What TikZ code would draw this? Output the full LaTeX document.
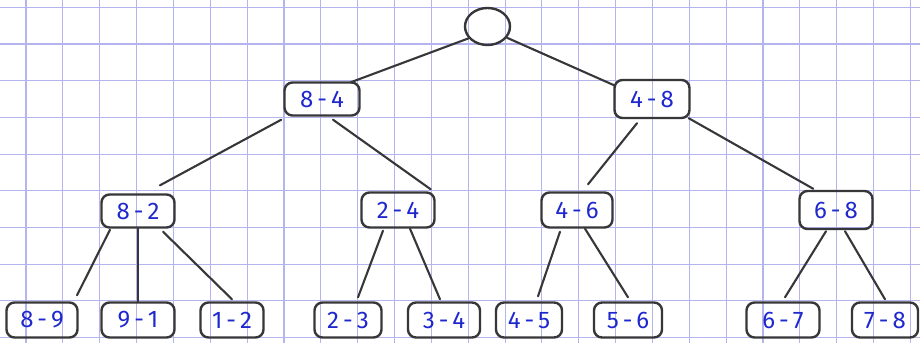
\documentclass[tikz,border=0pt]{standalone}
\usepackage{fontspec}
\setmainfont{Fira Sans}
\usetikzlibrary{shapes.geometric}
\definecolor{gridc}{RGB}{180,180,238}
\definecolor{pen}{RGB}{55,55,58}
\definecolor{ink}{RGB}{30,40,205}
\tikzset{
  gridline/.style={draw=gridc, line width=1.1pt},
  box/.style={draw=pen, line width=2.4pt, rounded corners=8pt, minimum height=34pt,
    inner sep=0pt, text=ink, font=\fontsize{24}{26}\selectfont},
  leaf/.style={box, minimum height=35pt},
  link/.style={draw=pen, line width=2.1pt, line cap=round},
}
\begin{document}
\begin{tikzpicture}[x=1pt,y=-1pt]
\useasboundingbox (0,0) rectangle (920,343);
\fill[white] (0,0) rectangle (920,343);
\foreach \k in {0,...,24} \draw[gridline] ({26+36.85*\k},0) -- ({26+36.85*\k},343);
\foreach \k in {0,...,9} \draw[gridline] (0,{7.3+36.7*\k}) -- (920,{7.3+36.7*\k});

% root
\node[ellipse, draw=pen, line width=2.4pt, minimum width=45pt, minimum height=37pt, inner sep=0pt] (root) at (487.5,26.5) {};
% level 1
\node[box, minimum width=75pt, minimum height=33pt] (n84) at (322,99) {8\,-\,4};
\node[box, minimum width=75pt, minimum height=38pt] (n48) at (652,99) {4\,-\,8};
% level 2
\node[box, minimum width=73pt, minimum height=33pt] (n82) at (138,211) {8\,-\,2};
\node[box, minimum width=73pt, minimum height=35pt] (n24) at (398,210) {2\,-\,4};
\node[box, minimum width=71pt, minimum height=35pt] (n46) at (577,210) {4\,-\,6};
\node[box, minimum width=73pt, minimum height=38pt] (n68) at (836,210) {6\,-\,8};
% leaves
\node[leaf, minimum width=71pt] (l89) at (42,320) {8\,-\,9};
\node[leaf, minimum width=73pt] (l91) at (138,320) {9\,-\,1};
\node[leaf, minimum width=63pt] (l12) at (232,320) {1\,-\,2};
\node[leaf, minimum width=67pt] (l23) at (348,320) {2\,-\,3};
\node[leaf, minimum width=72pt] (l34) at (444,320) {3\,-\,4};
\node[leaf, minimum width=66pt] (l45) at (529,320) {4\,-\,5};
\node[leaf, minimum width=68pt] (l56) at (628,320) {5\,-\,6};
\node[leaf, minimum width=73pt] (l67) at (783,320) {6\,-\,7};
\node[leaf, minimum width=66pt] (l78) at (885,320) {7\,-\,8};

% connectors
\draw[link] (root.212) -- ([xshift=-10pt,yshift=-1pt]n84.north east);
\draw[link] (root.330) -- ([xshift=2pt,yshift=-7pt]n48.north west);
\draw[link] ([xshift=-2pt,yshift=-3pt]n84.south west) -- ([xshift=22pt,yshift=8pt]n82.north);
\draw[link] ([xshift=11pt,yshift=-3pt]n84.south) -- ([xshift=-5pt,yshift=2pt]n24.north east);
\draw[link] ([xshift=-15pt,yshift=-4pt]n48.south) -- ([xshift=11pt,yshift=7pt]n46.north);
\draw[link] ([xshift=-2pt,yshift=1pt]n48.south east) -- ([xshift=15pt,yshift=1pt]n68.north west);
\draw[link] ([xshift=-28pt,yshift=-1pt]n82.south) -- ([xshift=35pt,yshift=6pt]l89.north);
\draw[link] (n82.south) -- (l91.north);
\draw[link] ([xshift=25pt,yshift=-3pt]n82.south) -- ([yshift=2pt]l12.north);
\draw[link] ([xshift=-15pt,yshift=-2pt]n24.south) -- ([xshift=10pt,yshift=4pt]l23.north);
\draw[link] ([xshift=12pt]n24.south) -- ([xshift=-4pt,yshift=2pt]l34.north);
\draw[link] ([xshift=-17pt,yshift=-3pt]n46.south) -- ([xshift=9pt,yshift=5pt]l45.north);
\draw[link] ([xshift=8pt]n46.south) -- ([yshift=4pt]l56.north);
\draw[link] ([xshift=-10pt,yshift=-1pt]n68.south) -- ([xshift=2pt,yshift=4pt]l67.north);
\draw[link] ([xshift=9pt,yshift=-1pt]n68.south) -- ([yshift=2pt]l78.north);
\end{tikzpicture}
\end{document}
